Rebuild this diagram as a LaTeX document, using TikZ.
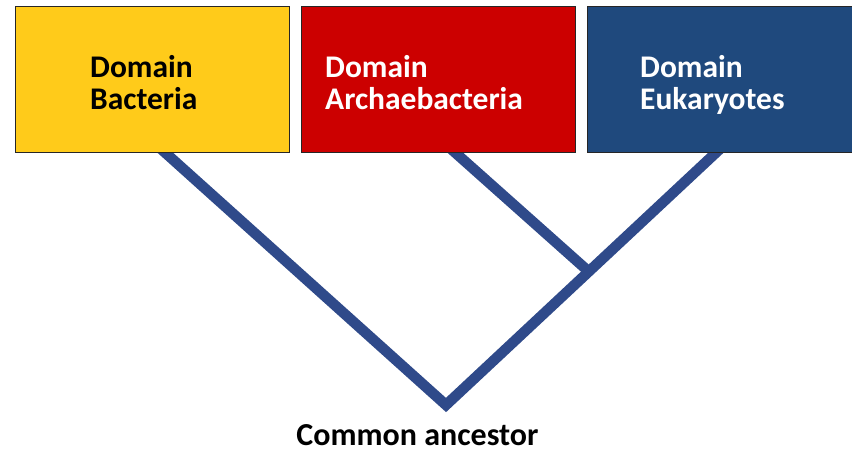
\documentclass[tikz,border=0pt]{standalone}
\usepackage{fontspec}
\setmainfont{Carlito}
\definecolor{byellow}{HTML}{FFCB1A}
\definecolor{bred}{HTML}{CC0000}
\definecolor{bblue}{HTML}{1F497D}
\definecolor{treeblue}{HTML}{2F4A8A}
\tikzset{
  dombox/.style={draw=black!85, line width=1.2pt, anchor=north west, inner sep=0pt, minimum height=146pt},
  domtext/.style={anchor=base west, inner sep=0pt, align=left, font=\fontsize{31.5}{32}\selectfont\bfseries},
  branch/.style={draw=treeblue, line width=10.5pt, line join=miter, line cap=butt},
}
\begin{document}
\begin{tikzpicture}[x=1pt,y=-1pt]
\useasboundingbox (0,0) rectangle (852,454);
\coordinate (bt) at (160,148);
\coordinate (at) at (450,148);
\coordinate (et) at (721,148);
\coordinate (root) at (446,405);
\coordinate (junc) at (587,270);
\draw[branch] (bt) -- (root) -- (et);
\draw[branch] (at) -- (junc);
\node[dombox, fill=byellow, minimum width=274pt] (bac) at (15,6) {};
\node[dombox, fill=bred, minimum width=274pt] (arc) at (301,6) {};
\node[dombox, fill=bblue, minimum width=280pt] (euk) at (587,6) {};
\node[domtext, text=black] (bactext) at (90,110) {Domain\\Bacteria};
\node[domtext, text=white] (arctext) at (325,110) {Domain\\Archaebacteria};
\node[domtext, text=white] (euktext) at (640,110) {Domain\\Eukaryotes};
\node[anchor=base, inner sep=0pt, font=\fontsize{32}{34}\selectfont\bfseries] (anc) at (417.5,446) {Common ancestor};
\end{tikzpicture}
\end{document}
